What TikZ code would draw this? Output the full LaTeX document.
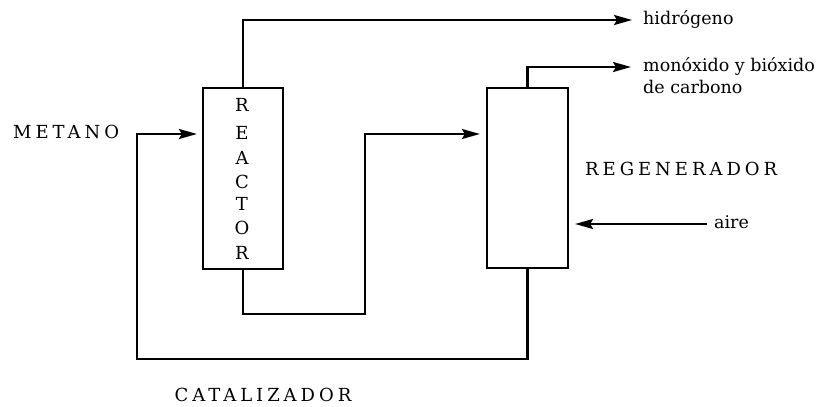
\documentclass[tikz,border=0pt]{standalone}
\usepackage{fontspec}
\setmainfont{DejaVu Serif}
\newfontfamily\capsfont[LetterSpace=22]{DejaVu Serif}
\usetikzlibrary{arrows.meta}
\begin{document}
\begin{tikzpicture}[x=1pt,y=-1pt,
  unit/.style={draw, line width=2.2pt, inner sep=0},
  flow/.style={line width=2.4pt, -{Stealth[length=18pt,width=10pt,inset=3pt]}},
  biglabel/.style={font=\capsfont\fontsize{18}{22}\selectfont, inner sep=0, text height=13.1pt, text depth=0pt},
  smalllabel/.style={font=\fontsize{17.5}{21}\selectfont, inner sep=0, text height=9.1pt, text depth=0pt},
  letter/.style={font=\fontsize{18}{22}\selectfont, inner sep=0, text height=13.1pt, text depth=0pt}]
\useasboundingbox (0,0) rectangle (828,407);
% units
\node[unit, minimum width=80pt, minimum height=181pt] (reactor) at (243,178.5) {};
\node[unit, minimum width=81pt, minimum height=180pt] (regen) at (527.5,178) {};
% reactor letters
\node[letter] (l1) at (242,105) {R};
\node[letter] (l2) at (242,133) {E};
\node[letter] (l3) at (242,158) {A};
\node[letter] (l4) at (242,182) {C};
\node[letter] (l5) at (242,204) {T};
\node[letter] (l6) at (242,228) {O};
\node[letter] (l7) at (242,253) {R};
% labels
\node[biglabel, anchor=west] (metano) at (13,132) {METANO};
\node[biglabel, anchor=west] (regenlbl) at (585,169) {REGENERADOR};
\node[biglabel] (catal) at (263,395) {CATALIZADOR};
\node[smalllabel, anchor=west] (hid) at (643,20) {hidrógeno};
\node[smalllabel, anchor=west] (co1) at (643,67) {monóxido y bióxido};
\node[smalllabel, anchor=west] (co2) at (643,89) {de carbono};
\node[smalllabel, anchor=west] (aire) at (714,224) {aire};
% helper coordinates
\coordinate (retcorner) at (137,359);
\coordinate (retup) at (137,134);
\coordinate (midlow) at (365,314);
\coordinate (midhigh) at (365,134);
% connectors
\draw[flow, shorten >=11pt] (reactor.north) |- (hid.west);
\draw[flow, shorten >=12pt] (regen.north) |- (co1.west);
\draw[flow, shorten >=5pt] (regen.south) |- (retcorner) -- (retup) -- (reactor.west |- retup);
\draw[flow, shorten >=6pt] (reactor.south) |- (midlow) -- (midhigh) -- (regen.west |- midhigh);
\draw[flow, shorten <=7pt, shorten >=6pt] (aire.west) -- (regen.east |- aire.west);
\end{tikzpicture}
\end{document}
